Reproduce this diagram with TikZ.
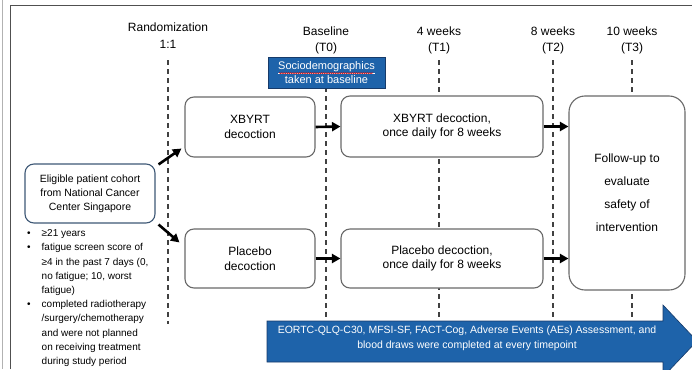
\documentclass[tikz,border=0pt]{standalone}
\usepackage{fontspec}
\setmainfont{Liberation Sans}
\usetikzlibrary{arrows.meta,decorations.pathmorphing}
\definecolor{boxgray}{RGB}{105,105,105}
\definecolor{dashgray}{RGB}{65,65,65}
\definecolor{trialblue}{RGB}{30,99,170}
\definecolor{bluedark}{RGB}{22,58,105}
\definecolor{slate}{RGB}{62,88,118}
\definecolor{framegray}{RGB}{80,80,80}
\begin{document}
\begin{tikzpicture}[x=1pt,y=-1pt,
  stagebox/.style={draw=boxgray,line width=1.1pt,rounded corners=9pt,fill=white,align=center,
    font=\fontsize{12}{14.5}\selectfont,inner sep=0pt},
  timeline/.style={draw=dashgray,line width=1.2pt,dash pattern=on 5pt off 4pt},
  flow/.style={-{Triangle[length=8.5pt,width=9pt]},line width=2.6pt,black},
  timelabel/.style={font=\fontsize{12}{16}\selectfont,align=center,inner sep=0pt}]
\useasboundingbox (0,0) rectangle (692,369);
\clip (0,0) rectangle (692,369);
% frame
\draw[gray!60,line width=0.8pt] (2,0) -- (2,369);
\draw[framegray,line width=1pt] (10,369) -- (10,6) -- (692,6);
% time labels
\node[timelabel,font=\fontsize{12}{16.5}\selectfont] (lrand) at (168,35.5) {Randomization\\1:1};
\node[timelabel] (lbase) at (326,40) {Baseline\\(T0)};
\node[timelabel] (lt1) at (439,40) {4 weeks\\(T1)};
\node[timelabel] (lt2) at (553,40) {8 weeks\\(T2)};
\node[timelabel] (lt3) at (632,40) {10 weeks\\(T3)};
% timeline coordinates
\coordinate (r1) at (168,60);  \coordinate (r2) at (168,324);
\coordinate (b1) at (326,60);  \coordinate (b2) at (326,321);
\coordinate (t11) at (439,60); \coordinate (t12) at (439,321);
\coordinate (t21) at (553,60); \coordinate (t22) at (553,321);
\coordinate (t31) at (632,60); \coordinate (t32) at (632,321);
\draw[timeline] (r1) -- (r2);
\draw[timeline] (b1) -- (b2);
\draw[timeline] (t11) -- (t12);
\draw[timeline] (t21) -- (t22);
\draw[timeline] (t31) -- (t32);
% sociodemographics box
\node[draw=bluedark,line width=0.7pt,fill=trialblue,text=white,align=center,
  font=\fontsize{11}{14.5}\selectfont,minimum width=117pt,minimum height=31pt,inner sep=0pt]
  (socio) at (326.5,72.5) {\underline{Sociodemographics}\\taken at baseline};
\draw[red!85!black,line width=0.5pt,decorate,decoration={snake,segment length=2.2pt,amplitude=0.6pt}]
  (279,73.2) -- (373,73.2);
% stage boxes
\node[stagebox,minimum width=130pt,minimum height=60pt] (xb) at (250,127) {XBYRT\\decoction};
\node[stagebox,minimum width=202pt,minimum height=61pt] (xl) at (442,126.5) {XBYRT decoction,\\once daily for 8 weeks};
\node[stagebox,minimum width=130pt,minimum height=59pt] (pb) at (250,258.5) {Placebo\\decoction};
\node[stagebox,minimum width=202pt,minimum height=59pt] (pl) at (442,258.5) {Placebo decoction,\\once daily for 8 weeks};
\node[stagebox,rounded corners=16pt,minimum width=116pt,minimum height=194pt,
  font=\fontsize{12}{23}\selectfont] (fu) at (627,193) {Follow-up to\\evaluate\\safety of\\intervention};
% eligible box
\node[draw=slate,line width=1.1pt,rounded corners=9pt,fill=white,align=center,
  font=\fontsize{10.5}{14}\selectfont,minimum width=130pt,minimum height=59pt,inner sep=0pt]
  (el) at (90,193.5) {Eligible patient cohort\\from National Cancer\\Center Singapore};
% criteria list
\node[anchor=north west,inner sep=0pt,font=\fontsize{10}{14.2}\selectfont] (crit) at (27,226.5)
{\begin{tabular}{@{}l@{\hspace{11pt}}l@{}}
•&≥21 years\\
•&fatigue screen score of\\
&≥4 in the past 7 days (0,\\
&no fatigue; 10, worst\\
&fatigue)\\
•&completed radiotherapy\\
&/surgery/chemotherapy\\
&and were not planned\\
&on receiving treatment\\
&during study period
\end{tabular}};
% flow arrows
\draw[flow] ([shift={(3,1)}]el.north east) -- ([shift={(-3,-9)}]xb.south west);
\draw[flow] ([shift={(3,1)}]el.south east) -- ([shift={(-5,14)}]pb.north west);
\draw[flow] (xb.east) -- (xl.west);
\draw[flow] (pb.east) -- (pl.west);
\draw[flow] (xl.east) -- (fu.west |- xl.east);
\draw[flow] (pl.east) -- (fu.west |- pl.east);
% assessment arrow
\fill[trialblue,draw=bluedark,line width=0.6pt] (267,321) -- (663,321) -- (663,305) -- (697,341)
  -- (663,377) -- (663,362) -- (267,362) -- cycle;
\node[text=white,align=center,font=\fontsize{10.5}{15}\selectfont,inner sep=0pt] (assess) at (467,338.5)
  {EORTC-QLQ-C30, MFSI-SF, FACT-Cog, Adverse Events (AEs) Assessment, and\\blood draws were completed at every timepoint};
\end{tikzpicture}
\end{document}
